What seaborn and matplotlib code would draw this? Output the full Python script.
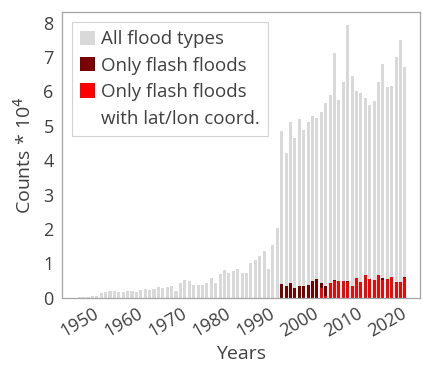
import numpy as np
import pandas as pd
import matplotlib
matplotlib.use("Agg")
import matplotlib.pyplot as plt
from matplotlib.patches import Rectangle
import seaborn as sns

# ---- data (values in units of 10^4 counts) ----
years_all = list(range(1950, 2025))
all_floods = [
    0.01, 0.01, 0.01, 0.04, 0.06, 0.13, 0.16, 0.20, 0.20, 0.17,   # 1950-1959
    0.18, 0.21, 0.21, 0.17, 0.22, 0.27, 0.23, 0.27, 0.32, 0.30,   # 1960-1969
    0.31, 0.34, 0.20, 0.42, 0.53, 0.49, 0.36, 0.36, 0.36, 0.42,   # 1970-1979
    0.59, 0.43, 0.70, 0.82, 0.73, 0.79, 0.85, 0.71, 0.71, 1.02,   # 1980-1989
    1.09, 1.22, 1.35, 0.85, 1.55, 2.04, 4.86, 4.21, 5.11, 4.64,   # 1990-1999
    5.20, 4.88, 5.10, 5.30, 5.24, 5.41, 5.66, 5.90, 7.13, 5.76,   # 2000-2009
    6.29, 7.92, 6.45, 6.02, 5.95, 5.81, 5.61, 5.71, 6.29, 6.79,   # 2010-2019
    6.14, 6.16, 7.01, 7.50, 6.72,                                 # 2020-2024
]
years_flash = list(range(1996, 2025))
flash_floods = [
    0.39, 0.34, 0.44, 0.30, 0.35, 0.35, 0.38, 0.48, 0.56,         # 1996-2004
    0.42, 0.34, 0.43, 0.51, 0.50, 0.50, 0.48, 0.33, 0.58, 0.47,   # 2005-2014
    0.65, 0.55, 0.53, 0.65, 0.57, 0.55, 0.62, 0.45, 0.47, 0.61,   # 2015-2024
]
years_latlon = list(range(2005, 2025))
flash_latlon = [
    0.29, 0.06, 0.43, 0.49, 0.50, 0.50, 0.45, 0.33, 0.58, 0.47,   # 2005-2014
    0.65, 0.55, 0.53, 0.65, 0.53, 0.54, 0.62, 0.45, 0.47, 0.57,   # 2015-2024
]
legend_labels = ["All flood types", "Only flash floods", "Only flash floods", "with lat/lon coord."]
xtick_years = [1950, 1960, 1970, 1980, 1990, 2000, 2010, 2020]

GREY = "#d9d9d9"
DARK = "#7a0000"
RED = "#ff0000"
TEXT = "#404040"
SPINE = "#a6a6a6"

sns.set_style("white")
plt.rcParams["font.family"] = ["Open Sans", "DejaVu Sans"]

fig = plt.figure(figsize=(4.22, 3.65), dpi=100)
ax = fig.add_axes([0.147, 0.184, 0.848, 0.783])

df_all = pd.DataFrame({"year": years_all, "v": all_floods})
df_fl = pd.DataFrame({"year": years_flash, "v": flash_floods})
df_ll = pd.DataFrame({"year": years_latlon, "v": flash_latlon})

bw = 0.7
sns.barplot(data=df_all, x="year", y="v", native_scale=True, color=GREY,
            saturation=1, width=bw, ax=ax, linewidth=0)
sns.barplot(data=df_fl, x="year", y="v", native_scale=True, color=DARK,
            saturation=1, width=bw, ax=ax, linewidth=0)
sns.barplot(data=df_ll, x="year", y="v", native_scale=True, color=RED,
            saturation=1, width=bw, ax=ax, linewidth=0)

ax.set_xlim(1946.1, 2027.4)
ax.set_ylim(0, 8.31)
ax.set_xticks(xtick_years)
ax.set_xticklabels([str(y) for y in xtick_years], rotation=30, ha="center")
ax.set_yticks(range(0, 9))
ax.tick_params(axis="both", which="major", labelsize=13, colors=SPINE,
               labelcolor=TEXT, length=3, width=0.8, direction="out")
ax.tick_params(axis="x", pad=2)
ax.tick_params(axis="y", pad=3)
for s in ax.spines.values():
    s.set_color(SPINE)
    s.set_linewidth(0.9)

ax.set_xlabel("Years", fontsize=14, color=TEXT, labelpad=3)
ax.set_ylabel("Counts * 10$^4$", fontsize=14, color=TEXT, labelpad=6)

handles = [Rectangle((0, 0), 1, 1, facecolor=GREY, edgecolor="none"),
           Rectangle((0, 0), 1, 1, facecolor=DARK, edgecolor="none"),
           Rectangle((0, 0), 1, 1, facecolor=RED, edgecolor="none"),
           Rectangle((0, 0), 1, 1, facecolor="none", edgecolor="none")]
leg = ax.legend(handles, legend_labels, loc="upper left",
                bbox_to_anchor=(0.027, 0.966), borderaxespad=0,
                fontsize=13.5, frameon=True, fancybox=False,
                edgecolor="#c8c8c8", handlelength=0.8, handleheight=0.8,
                handletextpad=0.3, labelspacing=0.45, borderpad=0.45)
leg.get_frame().set_linewidth(0.8)
for t in leg.get_texts():
    t.set_color(TEXT)

fig.savefig("out.png", dpi=100)
